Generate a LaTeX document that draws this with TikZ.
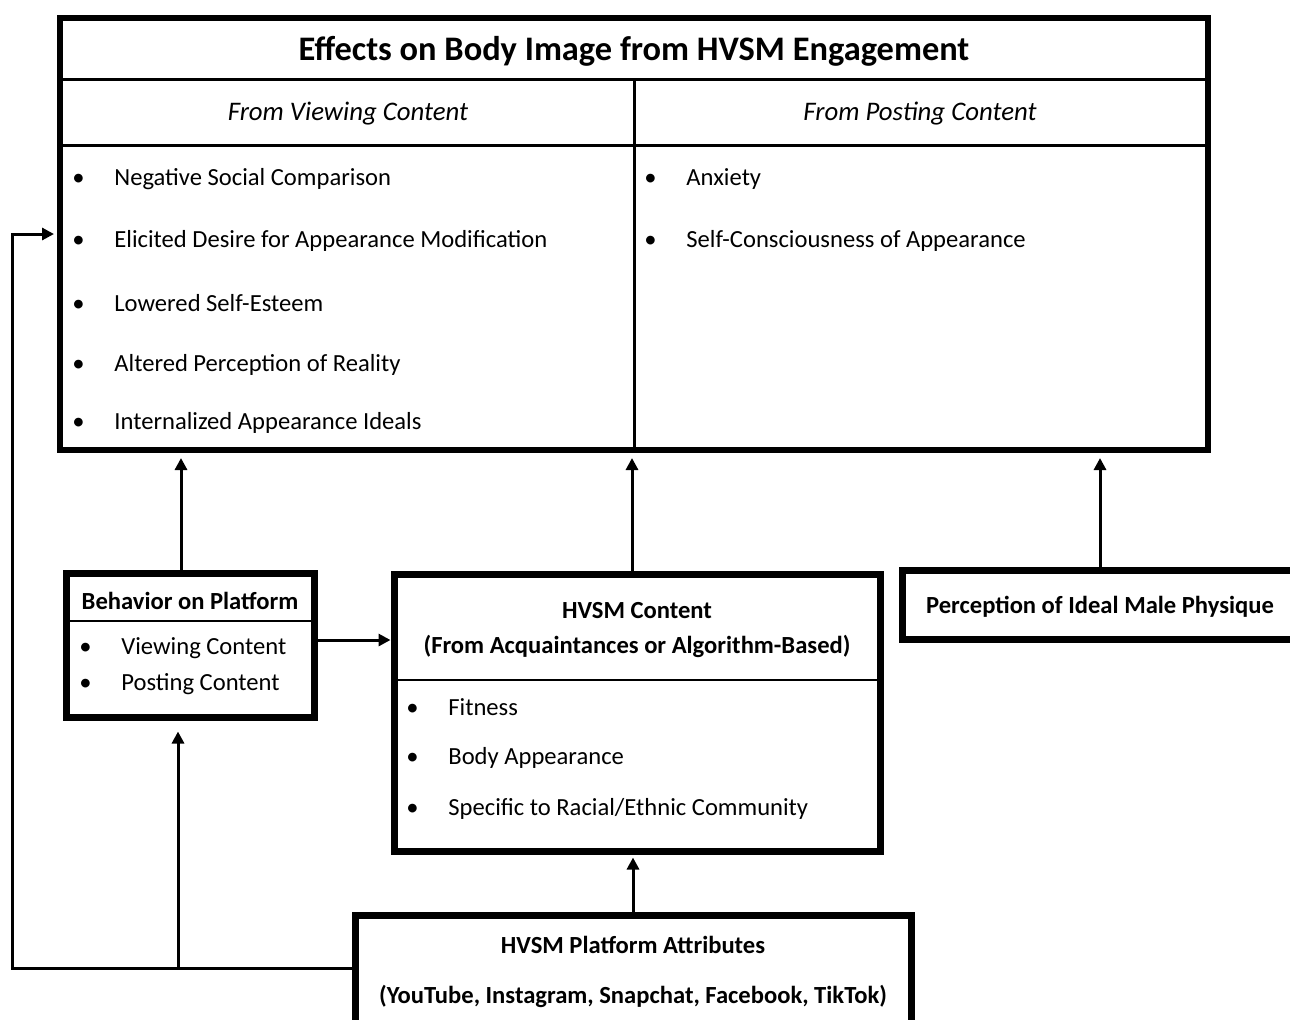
\documentclass[tikz,border=0pt]{standalone}
\usepackage{fontspec}
\setmainfont{Carlito}
\usepackage{tikz}
\usetikzlibrary{positioning}
\usetikzlibrary{arrows.meta}
\newcommand{\bul}{\makebox[21pt][l]{\textbullet}}

\begin{document}
\begin{tikzpicture}[x=0.5pt, y=-0.5pt,
		box/.style={draw, line width=3.5pt, inner sep=0pt},
		sep/.style={line width=1.5pt},
		thinsep/.style={line width=0.7pt},
		line/.style={line width=1.5pt, -{Triangle[length=6pt,width=6pt]}},
		item/.style={anchor=west, inner sep=0pt, font=\fontsize{12.3}{14}\selectfont},
		boxtitle/.style={inner sep=0pt, font=\bfseries\fontsize{12.3}{14}\selectfont, align=center}]
			\useasboundingbox (0,0) rectangle (1290,1019);
			\clip (0,0) rectangle (1290,1019);
			
			% effects box
			\node[box, line width=3pt, minimum width=574pt, minimum height=216pt] at (634,234) (effects) {};
			\node[inner sep=0pt, font=\bfseries\fontsize{17.2}{20}\selectfont] at (634,51) (title) {Effects on Body Image from HVSM Engagement};
			\draw[sep] (60,79) -- (1208,79);
			\draw[sep] (60,145) -- (1208,145);
			\draw[sep] (634,79) -- (634,450);
			\node[inner sep=0pt, font=\itshape\fontsize{13.4}{15}\selectfont] at (348,114) (hview) {From Viewing Content};
			\node[inner sep=0pt, font=\itshape\fontsize{13.4}{15}\selectfont] at (920,114) (hpost) {From Posting Content};
			\foreach \y/\txt [count=\i] in {179/Negative Social Comparison, 241/Elicited Desire for Appearance Modification, 303/Lowered Self-Esteem, 365/Altered Perception of Reality, 423/Internalized Appearance Ideals}
				\node[item] at (72,\y) (v\i) {\bul\txt};
			\foreach \y/\txt [count=\i] in {179/Anxiety, 241/Self-Consciousness of Appearance}
				\node[item] at (644,\y) (p\i) {\bul\txt};
			
			% behavior box
			\node[box, minimum width=124pt, minimum height=72pt] at (190,645) (behav) {};
			\node[boxtitle] at (190,601) (btitle) {Behavior on Platform};
			\draw[thinsep] (66,621) -- (314,621);
			\node[item] at (79,648) (b1) {\bul Viewing Content};
			\node[item] at (79,684) (b2) {\bul Posting Content};
			
			% hvsm content box
			\node[box, minimum width=243pt, minimum height=138.5pt] at (637,712.5) (hvsm) {};
			\node[boxtitle, font=\bfseries\fontsize{12.3}{17.5}\selectfont] at (637,630) (htitle) {HVSM Content\\(From Acquaintances or Algorithm-Based)};
			\draw[thinsep] (394,680) -- (880,680);
			\foreach \y/\txt [count=\i] in {707/Fitness, 758/Body Appearance, 809/{Specific to Racial/Ethnic Community}}
				\node[item] at (406,\y) (h\i) {\bul\txt};
			
			% perception box
			\node[box, minimum width=198pt, minimum height=34.5pt] at (1100,604.5) (percep) {};
			\node[boxtitle] at (1100,607) (ptitle) {Perception of Ideal Male Physique};
			
			% platform box
			\node[box, minimum width=278pt, minimum height=60pt] at (633,975) (platform) {};
			\node[boxtitle, font=\bfseries\fontsize{12.3}{25}\selectfont] at (633,972) (pftitle) {HVSM Platform Attributes\\(YouTube, Instagram, Snapchat, Facebook, TikTok)};
			
			% arrows
			\coordinate (a1) at ([xshift=-4.5pt]behav.north);
			\coordinate (a2) at ([xshift=-2.5pt]hvsm.north);
			\coordinate (a4) at ([yshift=2.5pt]behav.east);
			\coordinate (pw) at ([yshift=3.5pt]platform.west);
			\coordinate (c1) at ([xshift=-6pt]behav.south);
			\coordinate (jn) at (c1 |- pw);
			\coordinate (loop) at (12,234);
			\draw[line, shorten >=2.5pt] (a1) -- (a1 |- effects.south);
			\draw[line, shorten >=2.5pt] (a2) -- (a2 |- effects.south);
			\draw[line, shorten >=2.5pt] (percep.north) -- (percep.north |- effects.south);
			\draw[line] (a4) -- (a4 -| hvsm.west);
			\draw[line, shorten >=1.5pt] (platform.north) -- (platform.north |- hvsm.south);
			\draw[line, shorten >=1.5pt] (pw) -| (loop) -- (effects.west);
			\draw[line, shorten >=5.5pt] (jn) -- (c1);
			
		\end{tikzpicture}
\end{document}
